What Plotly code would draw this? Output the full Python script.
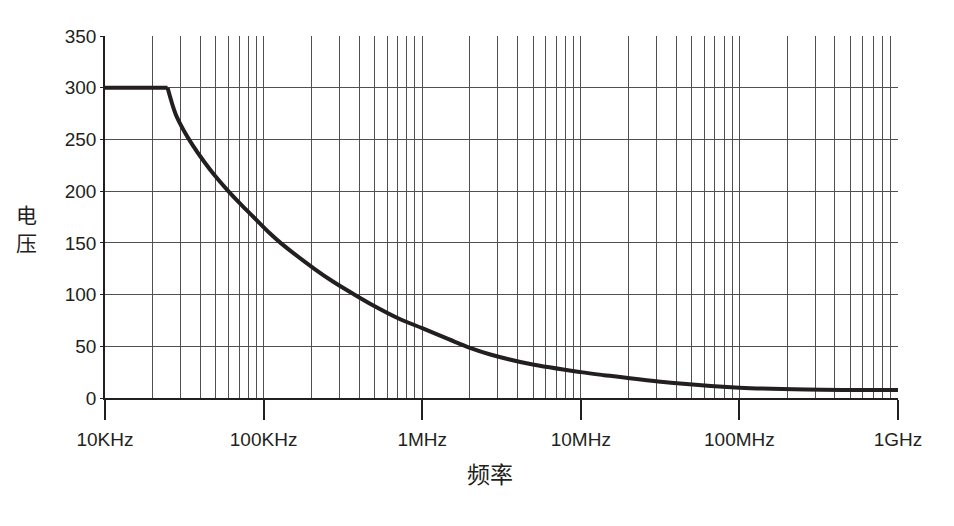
import plotly.graph_objects as go

# Data
freq_hz = [10e3, 24.8e3, 27.9e3, 31.5e3, 35.6e3, 42.2e3, 48.8e3, 59.3e3, 71.9e3,
           87.3e3, 108.6e3, 129e3, 210e3, 275e3, 368e3, 482e3, 710e3,
           1e6, 1.48e6, 2e6, 2.69e6, 4.8e6, 10e6, 14e6, 37e6,
           100e6, 264e6, 500e6, 1e9]
voltage = [300, 300, 274.4, 258.2, 244.8, 228.4, 215.8, 200.8, 187.2,
           174.3, 159.7, 149.5, 124.7, 112.4, 100.6, 90.2, 76.9,
           67.5, 56.6, 48.5, 42.1, 32.8, 25.0, 22.1, 14.7,
           10.0, 8.1, 7.8, 7.8]

x_tick_vals = [1e4, 1e5, 1e6, 1e7, 1e8, 1e9]
x_tick_text = ["10KHz", "100KHz", "1MHz", "10MHz", "100MHz", "1GHz"]
y_tick_vals = [0, 50, 100, 150, 200, 250, 300, 350]
x_title = "频率"
y_title = "电压"

minor_vals = [m * d for d in x_tick_vals[:-1] for m in range(2, 10)]

LINE_COLOR = "#231f20"
GRID = "#505050"
FONT = "Liberation Sans, Arial, sans-serif"
CJK = "Noto Sans CJK SC"

fig = go.Figure()
# flat part up to the knee
fig.add_trace(go.Scatter(x=freq_hz[:2], y=voltage[:2], mode="lines",
                         line=dict(color=LINE_COLOR, width=4), showlegend=False,
                         hoverinfo="skip"))
# decaying part
fig.add_trace(go.Scatter(x=freq_hz[1:], y=voltage[1:], mode="lines",
                         line=dict(color=LINE_COLOR, width=4, shape="spline", smoothing=0.9),
                         showlegend=False, hoverinfo="skip"))

y_title_ann = [
    dict(text=ch, xref="paper", yref="paper", x=-0.0984, y=yy,
         xanchor="center", yanchor="middle", showarrow=False,
         font=dict(family=CJK, size=21, color=LINE_COLOR))
    for ch, yy in zip(y_title, [0.507, 0.431])
]

fig.update_layout(
    width=954, height=526,
    margin=dict(l=97, r=64, t=28, b=136),
    paper_bgcolor="white", plot_bgcolor="white",
    font=dict(family=FONT, size=19, color=LINE_COLOR),
    xaxis=dict(
        type="log", range=[4, 9],
        tickmode="array", tickvals=x_tick_vals, ticktext=x_tick_text,
        ticks="outside", ticklen=20, tickwidth=2, tickcolor=LINE_COLOR,
        ticklabelstandoff=3,
        showgrid=True, gridcolor=GRID, gridwidth=1,
        minor=dict(tickvals=minor_vals, showgrid=True, gridcolor=GRID, gridwidth=1, ticks=""),
        showline=True, linecolor=LINE_COLOR, linewidth=1.5,
        zeroline=False,
        tickfont=dict(family=FONT, size=19, color=LINE_COLOR),
    ),
    yaxis=dict(
        range=[0, 350], tickmode="array", tickvals=y_tick_vals,
        ticks="outside", ticklen=3, tickwidth=1, tickcolor=LINE_COLOR,
        ticklabelstandoff=0,
        showgrid=True, gridcolor=GRID, gridwidth=1,
        showline=True, linecolor=LINE_COLOR, linewidth=1.5,
        zeroline=False,
        tickfont=dict(family=FONT, size=19, color=LINE_COLOR),
    ),
    annotations=[
        dict(text=x_title, xref="paper", yref="paper", x=0.4855, y=-0.207,
             xanchor="center", yanchor="middle", showarrow=False,
             font=dict(family=CJK, size=23, color=LINE_COLOR)),
    ] + y_title_ann,
)

fig.write_html("out.html")
